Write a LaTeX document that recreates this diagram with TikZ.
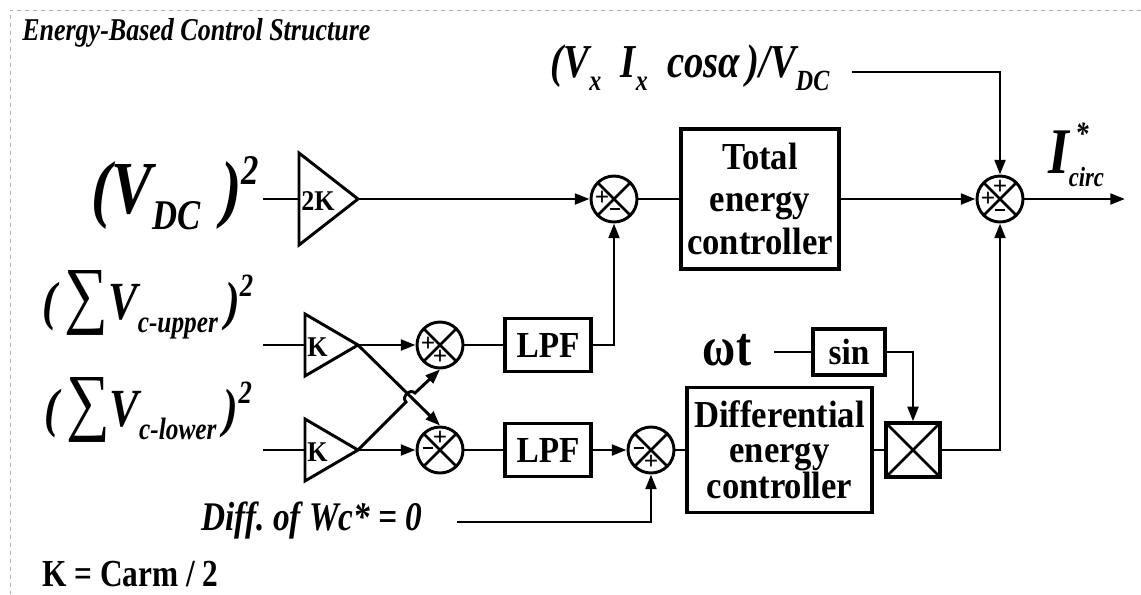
\documentclass[tikz,border=0pt]{standalone}
\usepackage{fontspec}
\usepackage{graphicx}
\setmainfont{Liberation Serif}
\usetikzlibrary{arrows.meta,calc}
\newcommand\lbl[1]{\fontsize{#1}{#1}\selectfont\bfseries\itshape}
\newcommand\fs[1]{\fontsize{#1}{#1}\selectfont}
\newcommand\tall[1]{\scalebox{1}[1.22]{#1}}
\newcommand\tallb[1]{\scalebox{1}[1.1]{#1}}
\newcommand\mns{\raisebox{3pt}{\rule{8pt}{1.8pt}}}
\tikzset{
	sig/.style={line width=2.2pt},
	arr/.style={line width=2.2pt, -{Triangle[length=11pt,width=8pt]}},
	blk/.style={draw, line width=2.4pt, align=center, inner sep=0pt,
		font=\fs{26}\bfseries},
	sumj/.style={draw, circle, line width=2.2pt, minimum size=34.5pt, inner sep=0pt,
		path picture={\draw[line width=2pt] (path picture bounding box.south west) -- (path picture bounding box.north east)
			(path picture bounding box.north west) -- (path picture bounding box.south east);}},
	mulj/.style={draw, line width=2.4pt, minimum size=40.5pt, inner sep=0pt,
		path picture={\draw[line width=2pt] (path picture bounding box.south west) -- (path picture bounding box.north east)
			(path picture bounding box.north west) -- (path picture bounding box.south east);}},
	sgn/.style={inner sep=0pt, font=\fs{19}\bfseries},
	gain/.style={line width=2.2pt, line join=miter}
}
\begin{document}
\begin{tikzpicture}[x=0.75pt, y=-0.75pt]
		\useasboundingbox (0,0) rectangle (1141,594);
		\draw[gray!60, dashed, line width=0.6pt] (1141,10) -- (10,10) -- (10,594);
		\node[anchor=west, inner sep=0pt] (title) at (22,33) {\tall{\lbl{19.5}Energy-Based Control Structure}};
		% input labels
		\node[inner sep=0pt] (lDC) at (175,193) {\tall{\lbl{46}(V\raisebox{-10pt}{\fs{26}DC}\,\,)\raisebox{18pt}{\fs{26}2}}};
		\node[inner sep=0pt] (lUp) at (148,305) {\tall{\lbl{33}(\,{\normalfont\fs{46}∑}V\raisebox{-8pt}{\fs{19}c-upper}\,)\raisebox{14pt}{\fs{20}2}}};
		\node[inner sep=0pt] (lLo) at (148,410) {\tall{\lbl{33}(\,{\normalfont\fs{46}∑}V\raisebox{-8pt}{\fs{19}c-lower}\,)\raisebox{14pt}{\fs{20}2}}};
		\node[inner sep=0pt] (lTop) at (690,68) {\tall{\lbl{29}(V\raisebox{-8pt}{\fs{18}x}\ \ I\raisebox{-8pt}{\fs{18}x}\ \ cosα\,)/V\raisebox{-8pt}{\fs{18}DC}}};
		\node[inner sep=0pt] (lOut) at (1076,155) {\tall{\lbl{40}I\rlap{\hspace{5pt}\raisebox{18pt}{\fs{20}*}}\raisebox{-8pt}{\fs{17}circ}}};
		\node[inner sep=0pt] (lWt) at (727,350) {\tall{\fs{34}\bfseries ωt}};
		\node[inner sep=0pt] (lWc) at (312,520) {\tall{\lbl{25}Diff.\ of Wc* = 0}};
		\node[anchor=west, inner sep=0pt] (lK) at (42,574) {\tall{\fs{23.5}\bfseries K = Carm / 2}};
		% free ends
		\coordinate (inDC) at (263,199);
		\coordinate (inUp) at (263,345);
		\coordinate (inLo) at (263,450);
		\coordinate (inTop) at (852,72);
		\coordinate (inWc) at (457,522);
		\coordinate (inWt) at (774,352);
		\coordinate (out) at (1125,199);
		% gains
		\draw[gain] (299,153) -- (358,199) -- (299,245) -- cycle;
		\coordinate (g2Kin) at (299,199); \coordinate (g2K) at (358,199);
		\node[inner sep=0pt, anchor=west, font=\fs{19.5}\bfseries] (t2K) at (301,201) {\tallb{2K}};
		\draw[gain] (305,314) -- (358,345) -- (305,376) -- cycle;
		\coordinate (gUin) at (305,345); \coordinate (gU) at (358,345);
		\node[inner sep=0pt, anchor=west, font=\fs{19.5}\bfseries] (tKu) at (307,347) {\tallb{K}};
		\draw[gain] (305,419) -- (358,450) -- (305,481) -- cycle;
		\coordinate (gLin) at (305,450); \coordinate (gL) at (358,450);
		\node[inner sep=0pt, anchor=west, font=\fs{19.5}\bfseries] (tKl) at (307,452) {\tallb{K}};
		% junctions
		\node[sumj] (sTot) at (614,199) {};
		\node[sumj] (sOut) at (1000,199) {};
		\node[sumj] (sUp) at (440,345) {};
		\node[sumj] (sLo) at (440,450) {};
		\node[sumj] (sDiff) at (651,450) {};
		\node[mulj] (mul) at (913,450) {};
		% blocks
		\node[blk, minimum width=118.5pt, minimum height=105pt] (tot) at (760,199) {\tallb{Total}\\[5pt]\tallb{energy}\\[5pt]\tallb{controller}};
		\node[blk, minimum width=138.75pt, minimum height=93.75pt] (dif) at (779.5,450) {\tallb{Differential}\\[0pt]\tallb{energy}\\[0pt]\tallb{controller}};
		\node[blk, minimum width=64.5pt, minimum height=39.75pt, font=\fs{25}\bfseries] (lpfU) at (548,345) {\tallb{LPF}};
		\node[blk, minimum width=64.5pt, minimum height=39.75pt, font=\fs{25}\bfseries] (lpfL) at (548,450) {\tallb{LPF}};
		\node[blk, minimum width=54pt, minimum height=34.5pt, font=\fs{25}\bfseries] (sin) at (849,352) {\tallb{sin}};
		% signs
		\node[sgn] at ($(sTot.center)+(-12,-1)$) {+};
		\node[sgn] at ($(sTot.center)+(1,12)$) {\mns};
		\node[sgn] at ($(sOut.center)+(0,-12)$) {+};
		\node[sgn] at ($(sOut.center)+(-12,0)$) {+};
		\node[sgn] at ($(sOut.center)+(0,13)$) {\mns};
		\node[sgn] at ($(sUp.center)+(-12,-1)$) {+};
		\node[sgn] at ($(sUp.center)+(0,12)$) {+};
		\node[sgn] at ($(sLo.center)+(0,-12)$) {+};
		\node[sgn] at ($(sLo.center)+(-12,0)$) {\mns};
		\node[sgn] at ($(sDiff.center)+(-12,0)$) {\mns};
		\node[sgn] at ($(sDiff.center)+(0,12)$) {+};
		% connectors
		\draw[sig] (inDC) -- (g2Kin);
		\draw[arr] (g2K) -- (sTot.west);
		\draw[sig] (sTot.east) -- (tot.west);
		\draw[arr] (tot.east) -- (sOut.west);
		\draw[arr] (inTop) -| (sOut.north);
		\draw[arr] (sOut.east) -- (out);
		\draw[sig] (inUp) -- (gUin);
		\draw[sig] (inLo) -- (gLin);
		\draw[arr] (gU) -- (sUp.west);
		\draw[arr] (gL) -- (sLo.west);
		\draw[arr] (gU) -- (sLo.north);
		\draw[arr] (gL) -- (406,402) .. controls +(-5,-5) and +(-5,-5) .. (415,393) -- (sUp.south);
		\draw[sig] (sUp.east) -- (lpfU.west);
		\draw[arr] (lpfU.east) -| (sTot.south);
		\draw[sig] (sLo.east) -- (lpfL.west);
		\draw[arr] (lpfL.east) -- (sDiff.west);
		\draw[arr] (inWc) -| (sDiff.south);
		\draw[sig] (sDiff.east) -- (dif.west);
		\draw[sig] (dif.east) -- (mul.west);
		\draw[sig] (inWt) -- (sin.west);
		\draw[arr] (sin.east) -| (mul.north);
		\draw[arr] (mul.east) -| (sOut.south);
	\end{tikzpicture}
\end{document}
